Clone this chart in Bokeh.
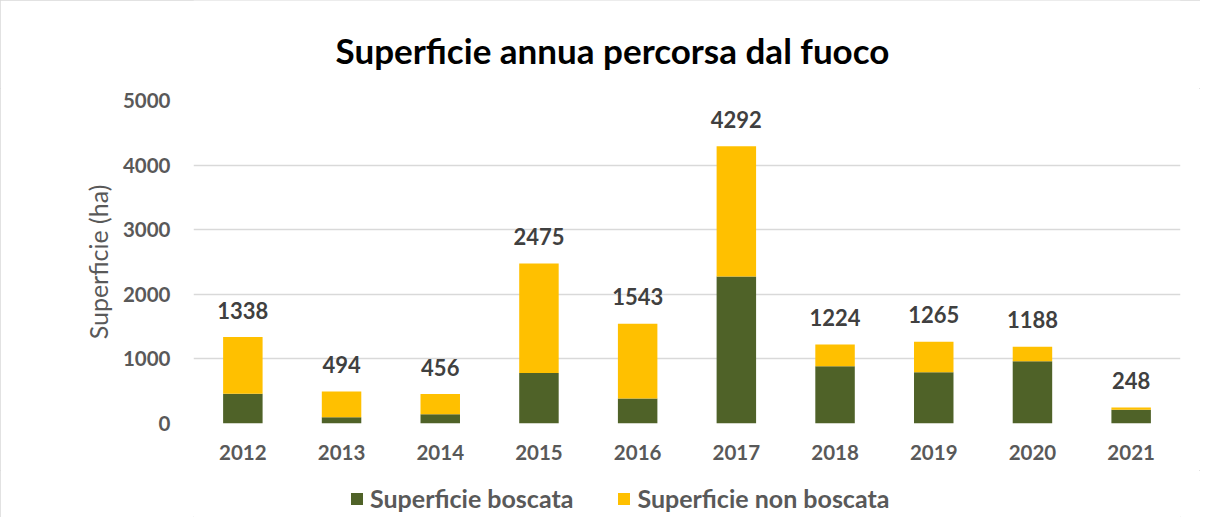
from bokeh.plotting import figure
from bokeh.layouts import column
from bokeh.models import (ColumnDataSource, FactorRange, Range1d, LabelSet, Label,
                          Legend, LegendItem)
from bokeh.core.properties import value
from bokeh.embed import file_html
from bokeh.resources import INLINE

years = ["2012", "2013", "2014", "2015", "2016", "2017", "2018", "2019", "2020", "2021"]
totale = [1338, 494, 456, 2475, 1543, 4292, 1224, 1265, 1188, 248]
boscata = [460, 98, 144, 780, 388, 2276, 887, 794, 964, 214]
non_boscata = [t - b for t, b in zip(totale, boscata)]
y_ticks = [0, 1000, 2000, 3000, 4000, 5000]
series_names = ["Superficie boscata", "Superficie non boscata"]

FONT = "Lato"
GREEN = "#4F6228"
YELLOW = "#FFC000"
W = 1200

# ---- title strip (frame is aligned with the chart frame by the column) ----
p0 = figure(width=W, height=88, x_range=Range1d(0, 1), y_range=Range1d(0, 1),
            output_backend="svg", toolbar_location=None, min_border=0,
            x_axis_location=None, y_axis_location=None)
p0.outline_line_color = None
p0.xgrid.visible = False
p0.ygrid.visible = False
p0.add_layout(Label(x=419, y=39, x_units="screen", y_units="screen",
                    text="Superficie annua percorsa dal fuoco", text_align="center",
                    text_baseline="alphabetic", text_font=FONT, text_font_size="35px",
                    text_font_style="bold", text_color="black"))

# ---- main chart ----
src = ColumnDataSource(dict(years=years, boscata=boscata, non_boscata=non_boscata,
                            totale=totale, lbl=[str(t) for t in totale]))

p = figure(width=W, height=382, x_range=FactorRange(*years), y_range=Range1d(0, 5000),
           output_backend="svg", toolbar_location=None,
           min_border_left=193, min_border_right=20, min_border_top=12, min_border_bottom=47)
p.outline_line_color = None

r = p.vbar_stack(["boscata", "non_boscata"], x="years", width=0.4, source=src,
                 color=[GREEN, YELLOW], line_color=None)

p.add_layout(LabelSet(x="years", y="totale", text="lbl", source=src, text_align="center",
                      text_baseline="middle", y_offset=27, text_font=value(FONT),
                      text_font_size="22px", text_font_style="bold", text_color="#404040"))

p.xaxis.axis_line_color = None
p.xaxis.major_tick_line_color = None
p.xaxis.major_tick_out = 0
p.xaxis.major_tick_in = 0
p.xaxis.minor_tick_line_color = None
p.xaxis.major_label_text_font = FONT
p.xaxis.major_label_text_font_size = "20.5px"
p.xaxis.major_label_text_font_style = "bold"
p.xaxis.major_label_text_color = "#595959"
p.xaxis.major_label_standoff = 21

p.yaxis.ticker = y_ticks
p.yaxis.axis_line_color = None
p.yaxis.major_tick_line_color = None
p.yaxis.major_tick_out = 0
p.yaxis.major_tick_in = 0
p.yaxis.minor_tick_line_color = None
p.yaxis.major_label_text_font = FONT
p.yaxis.major_label_text_font_size = "20.5px"
p.yaxis.major_label_text_font_style = "bold"
p.yaxis.major_label_text_color = "#595959"
p.yaxis.major_label_standoff = 23
p.yaxis.axis_label = "Superficie (ha)"
p.yaxis.axis_label_text_font = FONT
p.yaxis.axis_label_text_font_size = "25px"
p.yaxis.axis_label_text_font_style = "normal"
p.yaxis.axis_label_text_color = "#595959"
p.yaxis.axis_label_standoff = 7

p.xgrid.grid_line_color = None
p.ygrid.grid_line_color = "#D9D9D9"
p.ygrid.grid_line_width = 1.5

# ---- legend strip ----
p2 = figure(width=W, height=47, x_range=Range1d(0, 1), y_range=Range1d(0, 1),
            output_backend="svg", toolbar_location=None, min_border=0,
            x_axis_location=None, y_axis_location=None)
p2.outline_line_color = None
p2.xgrid.visible = False
p2.ygrid.visible = False
# zero-size swatch renderers, only used to give the legend its colour squares
sw1 = p2.vbar(x=[0.5], top=[0], bottom=[0], width=0, fill_color=GREEN, line_color=None)
sw2 = p2.vbar(x=[0.5], top=[0], bottom=[0], width=0, fill_color=YELLOW, line_color=None)
legend = Legend(items=[LegendItem(label=series_names[0], renderers=[sw1]),
                       LegendItem(label=series_names[1], renderers=[sw2])],
                location=(156, 4), orientation="horizontal",
                label_text_font=FONT, label_text_font_size="25px",
                label_text_font_style="bold", label_text_color="#595959",
                glyph_width=15, glyph_height=15, label_height=20, label_standoff=6,
                spacing=43, padding=0, margin=0, border_line_color=None,
                background_fill_alpha=0)
p2.add_layout(legend)

layout = column(p0, p, p2, spacing=0,
                styles={"outline": "1px solid #D9D9D9", "outline-offset": "-1px"})

open("out.html", "w").write(file_html(layout, INLINE))
